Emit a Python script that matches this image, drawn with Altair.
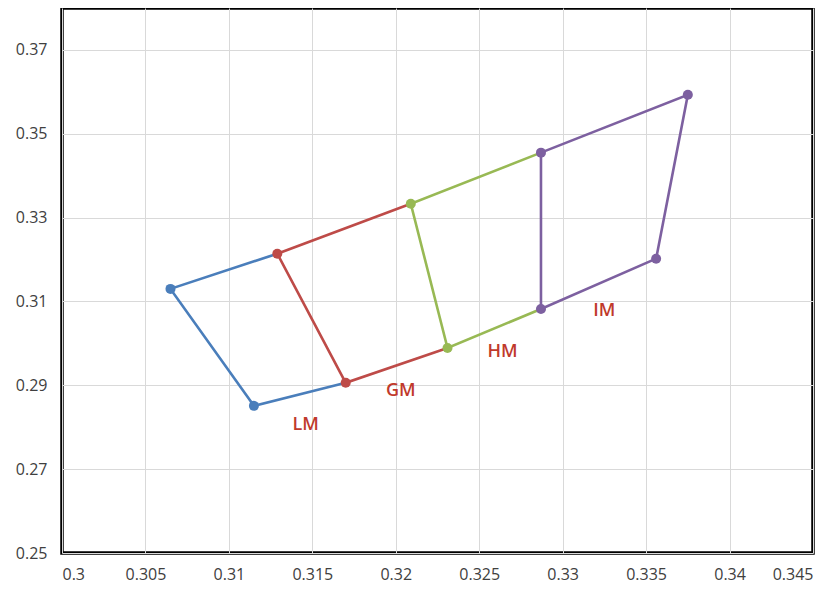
import altair as alt
import pandas as pd

series_names = ["LM", "GM", "HM", "IM"]
series_colors = ["#4A7EBB", "#BE4B48", "#98B954", "#7D60A0"]

lm_x = [0.3129, 0.3065, 0.3115, 0.3170]
lm_y = [0.3214, 0.3130, 0.2851, 0.2906]
gm_x = [0.3209, 0.3129, 0.3170, 0.3231]
gm_y = [0.3333, 0.3214, 0.2906, 0.2989]
hm_x = [0.3287, 0.3209, 0.3231, 0.3287]
hm_y = [0.3455, 0.3333, 0.2989, 0.3082]
im_x = [0.3287, 0.3375, 0.3356, 0.3287, 0.3287]
im_y = [0.3455, 0.3593, 0.3202, 0.3082, 0.3455]

# which vertices carry a marker of the series' own colour
marker_idx = {"LM": [1, 2], "GM": [1, 2], "HM": [1, 2], "IM": [0, 1, 2, 3]}

label_text = ["LM", "GM", "HM", "IM"]
label_x = [0.3146, 0.3203, 0.3264, 0.3325]
label_y = [0.2806, 0.2887, 0.2980, 0.3078]

x_ticks = [0.3, 0.305, 0.31, 0.315, 0.32, 0.325, 0.33, 0.335, 0.34, 0.345]
y_ticks = [0.25, 0.27, 0.29, 0.31, 0.33, 0.35, 0.37]

rows = []
pts = []
for name, xs, ys in [("LM", lm_x, lm_y), ("GM", gm_x, gm_y), ("HM", hm_x, hm_y), ("IM", im_x, im_y)]:
    for i, (xv, yv) in enumerate(zip(xs, ys)):
        rows.append({"series": name, "x": xv, "y": yv, "order": i})
        if i in marker_idx[name]:
            pts.append({"series": name, "x": xv, "y": yv})
lines_df = pd.DataFrame(rows)
pts_df = pd.DataFrame(pts)
labels_df = pd.DataFrame({"text": label_text, "x": label_x, "y": label_y})

font = "Open Sans"
xscale = alt.Scale(domain=[0.3, 0.345], nice=False, zero=False)
yscale = alt.Scale(domain=[0.25, 0.38], nice=False, zero=False)
cscale = alt.Scale(domain=series_names, range=series_colors)

xaxis = alt.Axis(values=x_ticks, labelExpr="format(datum.value, '.3~f')", title=None,
                 domain=False, ticks=False, grid=True, gridColor="#D9D9D9", gridWidth=1,
                 labelFont=font, labelFontSize=16, labelColor="#404040", labelPadding=13)
yaxis = alt.Axis(values=y_ticks, format=".2f", title=None,
                 domain=False, ticks=False, grid=True, gridColor="#D9D9D9", gridWidth=1,
                 labelFont=font, labelFontSize=16, labelColor="#404040", labelPadding=15)

lines = alt.Chart(lines_df).mark_line(strokeWidth=2.6).encode(
    x=alt.X("x:Q", scale=xscale, axis=xaxis),
    y=alt.Y("y:Q", scale=yscale, axis=yaxis),
    color=alt.Color("series:N", scale=cscale, legend=None),
    detail="series:N",
    order="order:Q",
)
points = alt.Chart(pts_df).mark_point(filled=True, size=100, opacity=1).encode(
    x=alt.X("x:Q", scale=xscale),
    y=alt.Y("y:Q", scale=yscale),
    color=alt.Color("series:N", scale=cscale, legend=None),
)
labels = alt.Chart(labels_df).mark_text(font=font, fontSize=18, color="#C0392B",
                                        fontWeight=600).encode(
    x=alt.X("x:Q", scale=xscale),
    y=alt.Y("y:Q", scale=yscale),
    text="text:N",
)

chart = alt.layer(lines, points, labels).properties(
    width=751, height=545,
    autosize=alt.AutoSizeParams(type="none"),
    padding={"left": 54, "top": 0, "right": 12, "bottom": 38},
    background="white",
).configure_view(stroke="black", strokeWidth=3.5)

chart.save("out.html", embed_options={"renderer": "svg", "actions": False})
